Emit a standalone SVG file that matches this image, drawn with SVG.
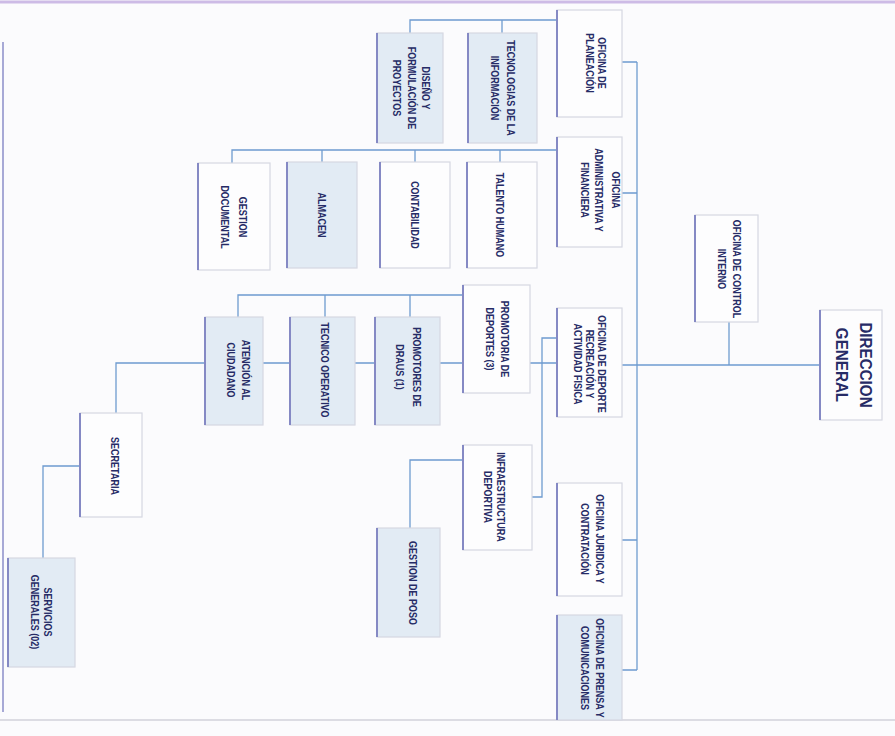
<svg xmlns="http://www.w3.org/2000/svg" width="895" height="736" viewBox="0 0 895 736">
<style>
.bg{fill:#fbfbfd}
.box{stroke:#d6d8e2;stroke-width:1.2}
.w{fill:#fdfdfe}
.b{fill:#e2ebf4}
.edge{stroke:#8589c4;stroke-width:2}
.c{stroke:#6e9bd0;stroke-width:1.3;fill:none}
.t{font-family:"Liberation Sans",Arial,sans-serif;font-weight:bold;font-size:10px;fill:#262b66;text-anchor:middle}
.big{font-size:16px}
</style>
<rect class="bg" x="0" y="0" width="895" height="736"/>
<line x1="0" y1="2" x2="895" y2="2" stroke="#cdbbe6" stroke-width="3"/>
<line x1="3" y1="42" x2="3" y2="712" stroke="#a7a9d6" stroke-width="2"/>
<line x1="0" y1="720" x2="895" y2="720" stroke="#d2d2da" stroke-width="1.5"/>

<g id="connectors">
<path class="c" d="M820,365 H622"/>
<path class="c" d="M729,322 V365"/>
<path class="c" d="M637,62 V670"/>
<path class="c" d="M622,62 H637 M622,193 H637 M622,540 H637 M622,670 H637"/>
<path class="c" d="M557,20 H410 V33 M502,20 V33"/>
<path class="c" d="M557,150 H232 V163 M322,150 V162 M415,150 V162 M500,150 V162"/>
<path class="c" d="M463,295 H238 V317 M325,295 V317 M410,295 V317"/>
<path class="c" d="M557,363 H116 V413"/>
<path class="c" d="M557,338 H542 V497 H532"/>
<path class="c" d="M463,460 H410 V528"/>
<path class="c" d="M80,466 H43 V558"/>
</g>

<g id="direccion-general">
<rect class="box w" x="820" y="310" width="62" height="110"/>
<line class="edge" x1="820" y1="310" x2="820" y2="420"/>
<text class="t big" transform="translate(860,365) rotate(90) scale(0.95,1)"><tspan x="0" y="0">DIRECCION</tspan><tspan x="0" y="24">GENERAL</tspan></text>
</g>

<g id="oficina-control-interno">
<rect class="box w" x="695" y="215" width="63" height="107"/>
<line class="edge" x1="695" y1="215" x2="695" y2="322"/>
<text class="t" transform="translate(733.4,269) rotate(90) scale(0.9,1)"><tspan x="0" y="0">OFICINA DE CONTROL</tspan><tspan x="0" y="15">INTERNO</tspan></text>
</g>

<g id="oficina-planeacion">
<rect class="box w" x="557" y="10" width="65" height="107"/>
<line class="edge" x1="557" y1="10" x2="557" y2="117"/>
<text class="t" transform="translate(598.4,63) rotate(90) scale(0.9,1)"><tspan x="0" y="0">OFICINA DE</tspan><tspan x="0" y="12">PLANEACIÓN</tspan></text>
</g>

<g id="oficina-administrativa">
<rect class="box w" x="557" y="137" width="65" height="110"/>
<line class="edge" x1="557" y1="137" x2="557" y2="247"/>
<text class="t" transform="translate(612.4,190) rotate(90) scale(0.9,1)"><tspan x="0" y="0">OFICINA</tspan><tspan x="0" y="17">ADMINISTRATIVA Y</tspan><tspan x="0" y="31">FINANCIERA</tspan></text>
</g>

<g id="oficina-deporte">
<rect class="box w" x="557" y="308" width="65" height="109"/>
<line class="edge" x1="557" y1="308" x2="557" y2="417"/>
<text class="t" transform="translate(598.4,364) rotate(90) scale(0.9,1)"><tspan x="0" y="0">OFICINA DE DEPORTE</tspan><tspan x="0" y="12">RECREACIÓN Y</tspan><tspan x="0" y="24">ACTIVIDAD FISICA</tspan></text>
</g>

<g id="oficina-juridica">
<rect class="box w" x="557" y="483" width="65" height="113"/>
<line class="edge" x1="557" y1="483" x2="557" y2="596"/>
<text class="t" transform="translate(596.4,539) rotate(90) scale(0.9,1)"><tspan x="0" y="0">OFICINA JURIDICA Y</tspan><tspan x="0" y="15">CONTRATACIÓN</tspan></text>
</g>

<g id="oficina-prensa">
<rect class="box b" x="557" y="615" width="65" height="105"/>
<line class="edge" x1="557" y1="615" x2="557" y2="720"/>
<text class="t" transform="translate(596.4,668) rotate(90) scale(0.9,1)"><tspan x="0" y="0">OFICINA DE PRENSA Y</tspan><tspan x="0" y="15">COMUNICACIONES</tspan></text>
</g>

<g id="tecnologias">
<rect class="box b" x="468" y="33" width="69" height="110"/>
<line class="edge" x1="468" y1="33" x2="468" y2="143"/>
<text class="t" transform="translate(507.4,88) rotate(90) scale(0.9,1)"><tspan x="0" y="0">TECNOLOGIAS DE LA</tspan><tspan x="0" y="16">INFORMACIÓN</tspan></text>
</g>

<g id="diseno-proyectos">
<rect class="box b" x="377" y="33" width="66" height="110"/>
<line class="edge" x1="377" y1="33" x2="377" y2="143"/>
<text class="t" transform="translate(422.4,88) rotate(90) scale(0.9,1)"><tspan x="0" y="0">DISEÑO Y</tspan><tspan x="0" y="14">FORMULACIÓN DE</tspan><tspan x="0" y="29">PROYECTOS</tspan></text>
</g>

<g id="talento-humano">
<rect class="box w" x="467" y="162" width="70" height="106"/>
<line class="edge" x1="467" y1="162" x2="467" y2="268"/>
<text class="t" transform="translate(496.4,215) rotate(90) scale(0.9,1)">TALENTO HUMANO</text>
</g>

<g id="contabilidad">
<rect class="box w" x="380" y="162" width="70" height="106"/>
<line class="edge" x1="380" y1="162" x2="380" y2="268"/>
<text class="t" transform="translate(411.4,215) rotate(90) scale(0.9,1)">CONTABILIDAD</text>
</g>

<g id="almacen">
<rect class="box b" x="287" y="162" width="70" height="106"/>
<line class="edge" x1="287" y1="162" x2="287" y2="268"/>
<text class="t" transform="translate(318.4,215) rotate(90) scale(0.9,1)">ALMACEN</text>
</g>

<g id="gestion-documental">
<rect class="box w" x="198" y="163" width="72" height="107"/>
<line class="edge" x1="198" y1="163" x2="198" y2="270"/>
<text class="t" transform="translate(239.4,217) rotate(90) scale(0.9,1)"><tspan x="0" y="0">GESTION</tspan><tspan x="0" y="18">DOCUMENTAL</tspan></text>
</g>

<g id="promotoria-deportes">
<rect class="box w" x="463" y="285" width="67" height="108"/>
<line class="edge" x1="463" y1="285" x2="463" y2="393"/>
<text class="t" transform="translate(501.4,339) rotate(90) scale(0.9,1)"><tspan x="0" y="0">PROMOTORIA DE</tspan><tspan x="0" y="15">DEPORTES (3)</tspan></text>
</g>

<g id="promotores">
<rect class="box b" x="375" y="317" width="65" height="108"/>
<line class="edge" x1="375" y1="317" x2="375" y2="425"/>
<text class="t" transform="translate(413.4,367) rotate(90) scale(0.9,1)"><tspan x="0" y="0">PROMOTORES DE</tspan><tspan x="0" y="17">DRAUS (1)</tspan></text>
</g>

<g id="tecnico-operativo">
<rect class="box b" x="290" y="317" width="65" height="108"/>
<line class="edge" x1="290" y1="317" x2="290" y2="425"/>
<text class="t" transform="translate(321.4,370) rotate(90) scale(0.9,1)">TECNICO OPERATIVO</text>
</g>

<g id="atencion-ciudadano">
<rect class="box b" x="205" y="317" width="58" height="108"/>
<line class="edge" x1="205" y1="317" x2="205" y2="425"/>
<text class="t" transform="translate(242.4,370) rotate(90) scale(0.9,1)"><tspan x="0" y="0">ATENCIÓN AL</tspan><tspan x="0" y="15">CIUDADANO</tspan></text>
</g>

<g id="secretaria">
<rect class="box w" x="80" y="413" width="62" height="104"/>
<line class="edge" x1="80" y1="413" x2="80" y2="517"/>
<text class="t" transform="translate(111.4,466) rotate(90) scale(0.9,1)">SECRETARIA</text>
</g>

<g id="servicios-generales">
<rect class="box b" x="8" y="558" width="67" height="109"/>
<line class="edge" x1="8" y1="558" x2="8" y2="667"/>
<text class="t" transform="translate(44.4,612) rotate(90) scale(0.9,1)"><tspan x="0" y="0">SERVICIOS</tspan><tspan x="0" y="13">GENERALES (02)</tspan></text>
</g>

<g id="infraestructura-deportiva">
<rect class="box w" x="463" y="445" width="69" height="105"/>
<line class="edge" x1="463" y1="445" x2="463" y2="550"/>
<text class="t" transform="translate(497.4,497) rotate(90) scale(0.9,1)"><tspan x="0" y="0">INFRAESTRUCTURA</tspan><tspan x="0" y="13">DEPORTIVA</tspan></text>
</g>

<g id="gestion-poso">
<rect class="box b" x="377" y="528" width="63" height="109"/>
<line class="edge" x1="377" y1="528" x2="377" y2="637"/>
<text class="t" transform="translate(409.4,583) rotate(90) scale(0.9,1)">GESTION DE POSO</text>
</g>
</svg>
